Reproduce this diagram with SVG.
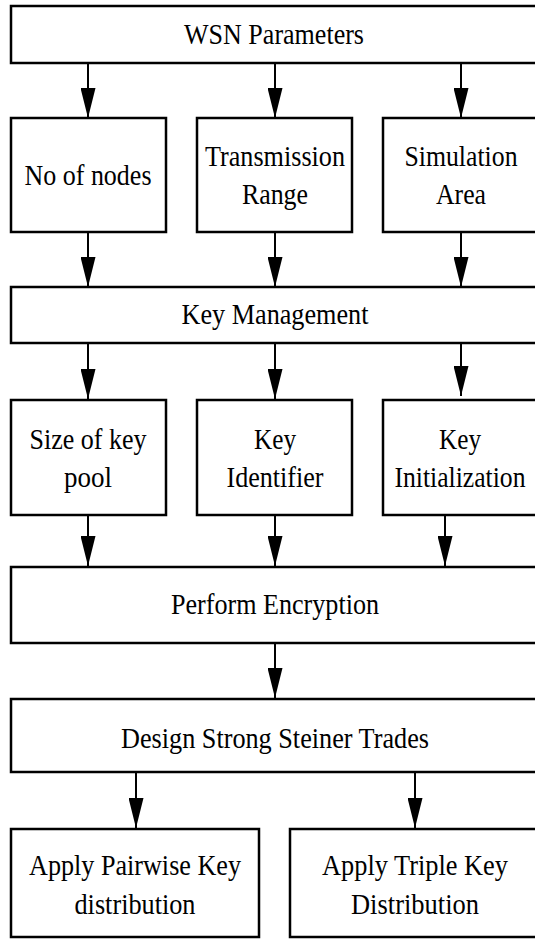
<svg xmlns="http://www.w3.org/2000/svg" width="535" height="939" viewBox="0 0 535 939">
<style>
.box{fill:#fff;stroke:#000;stroke-width:2.5}
.t{font-size:28.5px;fill:#000;text-anchor:middle}
.c{stroke:#000;stroke-width:2;fill:none;marker-end:url(#ah)}
</style>
<defs>
<marker id="ah" markerUnits="userSpaceOnUse" markerWidth="30" markerHeight="15" refX="30" refY="7.5" orient="auto" viewBox="0 0 30 15">
<path d="M0,0 L30,7.5 L0,15 Z" fill="#000"/>
</marker>
</defs>
<rect width="535" height="939" fill="#fff"/>
<g font-family="'Liberation Serif', 'Times New Roman', serif">
<g id="n1"><rect class="box" x="11" y="6" width="530" height="57"/><text class="t" x="274" y="44" textLength="180" lengthAdjust="spacingAndGlyphs">WSN Parameters</text></g>
<g id="n2"><rect class="box" x="11" y="118" width="155" height="114"/><text class="t" x="88" y="185" textLength="127" lengthAdjust="spacingAndGlyphs">No of nodes</text></g>
<g id="n3"><rect class="box" x="197" y="118" width="155" height="114"/><text class="t" x="275" y="166" textLength="140" lengthAdjust="spacingAndGlyphs">Transmission</text><text class="t" x="275" y="204" textLength="66" lengthAdjust="spacingAndGlyphs">Range</text></g>
<g id="n4"><rect class="box" x="383" y="118" width="160" height="114"/><text class="t" x="461" y="166" textLength="113" lengthAdjust="spacingAndGlyphs">Simulation</text><text class="t" x="461" y="204" textLength="50" lengthAdjust="spacingAndGlyphs">Area</text></g>
<g id="n5"><rect class="box" x="11" y="287" width="530" height="56"/><text class="t" x="275" y="324" textLength="187" lengthAdjust="spacingAndGlyphs">Key Management</text></g>
<g id="n6"><rect class="box" x="11" y="400" width="155" height="115"/><text class="t" x="88" y="449" textLength="117" lengthAdjust="spacingAndGlyphs">Size of key</text><text class="t" x="88" y="487" textLength="48" lengthAdjust="spacingAndGlyphs">pool</text></g>
<g id="n7"><rect class="box" x="197" y="400" width="155" height="115"/><text class="t" x="275" y="449" textLength="42" lengthAdjust="spacingAndGlyphs">Key</text><text class="t" x="275" y="487" textLength="97" lengthAdjust="spacingAndGlyphs">Identifier</text></g>
<g id="n8"><rect class="box" x="383" y="400" width="160" height="115"/><text class="t" x="460" y="449" textLength="42" lengthAdjust="spacingAndGlyphs">Key</text><text class="t" x="460" y="487" textLength="131" lengthAdjust="spacingAndGlyphs">Initialization</text></g>
<g id="n9"><rect class="box" x="11" y="567" width="530" height="76"/><text class="t" x="275" y="614" textLength="208" lengthAdjust="spacingAndGlyphs">Perform Encryption</text></g>
<g id="n10"><rect class="box" x="11" y="699" width="530" height="73"/><text class="t" x="275" y="748" textLength="308" lengthAdjust="spacingAndGlyphs">Design Strong Steiner Trades</text></g>
<g id="n11"><rect class="box" x="11" y="829" width="248" height="108"/><text class="t" x="135" y="875" textLength="212" lengthAdjust="spacingAndGlyphs">Apply Pairwise Key</text><text class="t" x="135" y="914" textLength="121" lengthAdjust="spacingAndGlyphs">distribution</text></g>
<g id="n12"><rect class="box" x="290" y="829" width="260" height="108"/><text class="t" x="415" y="875" textLength="186" lengthAdjust="spacingAndGlyphs">Apply Triple Key</text><text class="t" x="415" y="914" textLength="128" lengthAdjust="spacingAndGlyphs">Distribution</text></g>
</g>
<g id="connectors">
<line class="c" x1="88" y1="63" x2="88" y2="118"/>
<line class="c" x1="275" y1="63" x2="275" y2="118"/>
<line class="c" x1="461" y1="63" x2="461" y2="118"/>
<line class="c" x1="88" y1="232" x2="88" y2="287"/>
<line class="c" x1="275" y1="232" x2="275" y2="287"/>
<line class="c" x1="461" y1="232" x2="461" y2="287"/>
<line class="c" x1="88" y1="343" x2="88" y2="399"/>
<line class="c" x1="275" y1="343" x2="275" y2="399"/>
<line class="c" x1="461" y1="343" x2="461" y2="396"/>
<line class="c" x1="88" y1="515" x2="88" y2="566"/>
<line class="c" x1="275" y1="515" x2="275" y2="566"/>
<line class="c" x1="445" y1="515" x2="445" y2="566"/>
<line class="c" x1="275" y1="643" x2="275" y2="698"/>
<line class="c" x1="136" y1="772" x2="136" y2="828"/>
<line class="c" x1="415" y1="772" x2="415" y2="828"/>
</g>
</svg>
